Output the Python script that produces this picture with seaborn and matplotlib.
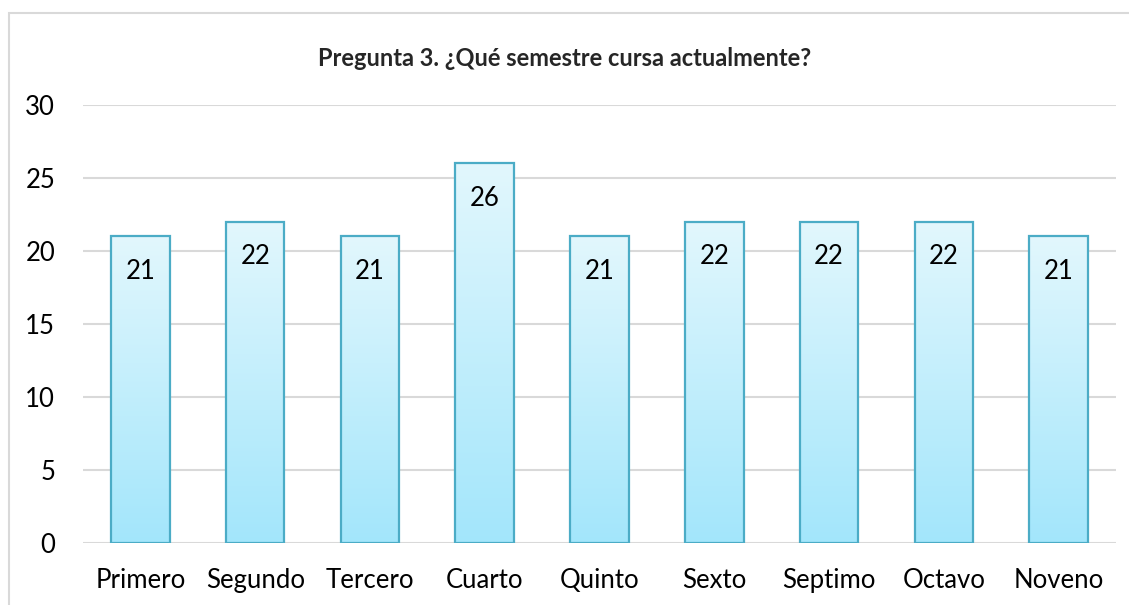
import numpy as np
import pandas as pd
import matplotlib
matplotlib.use("Agg")
import matplotlib.pyplot as plt
import seaborn as sns
from matplotlib.patches import Rectangle

# datos de la encuesta
semestres = ["Primero", "Segundo", "Tercero", "Cuarto", "Quinto",
             "Sexto", "Septimo", "Octavo", "Noveno"]
estudiantes = [21, 22, 21, 26, 21, 22, 22, 22, 21]
titulo = "Pregunta 3. ¿Qué semestre cursa actualmente?"

df = pd.DataFrame({"semestre": semestres, "n": estudiantes})

sns.set_style("white")
plt.rcParams["font.family"] = ["Lato", "DejaVu Sans"]

fig = plt.figure(figsize=(11.29, 6.05), dpi=100)
W, H = 1129, 605
ax = fig.add_axes([83 / W, (H - 543) / H, (1116 - 83) / W, (543 - 105) / H])

# marco gris del grafico
fig.patches.append(Rectangle((9 / W, -0.1), 1.2, (H - 13) / H + 0.1,
                             transform=fig.transFigure, fill=False,
                             edgecolor="#d9d9d9", linewidth=1.5))

sns.barplot(data=df, x="semestre", y="n", ax=ax, width=0.51,
            facecolor="none", edgecolor="#4bacc6", linewidth=1.6, zorder=3)

# degradado dentro de cada barra
grad = np.linspace(0, 1, 256).reshape(-1, 1)
cmap = matplotlib.colors.LinearSegmentedColormap.from_list(
    "azul", ["#a3e6fb", "#e2f7fd"])
for p in ax.patches:
    x0, w, h = p.get_x(), p.get_width(), p.get_height()
    ax.imshow(grad, extent=[x0, x0 + w, 0, h], origin="lower", cmap=cmap,
              aspect="auto", zorder=2)

for i, v in enumerate(estudiantes):
    ax.annotate(str(v), (i, v), xytext=(0, -16), textcoords="offset points",
                ha="center", va="top", fontsize=18.5, color="black", zorder=4)

ax.set_xlim(-0.5, len(semestres) - 0.5)
ax.set_ylim(0, 30)
ax.set_yticks(range(0, 31, 5))
ax.yaxis.grid(True, color="#d9d9d9", linewidth=1.5, zorder=0)
ax.set_axisbelow(True)
for s in ax.spines.values():
    s.set_visible(False)
ax.tick_params(axis="both", length=0, labelsize=18.5, colors="black")
ax.tick_params(axis="y", pad=20)
ax.tick_params(axis="x", pad=18)
ax.set_xlabel("")
ax.set_ylabel("")

fig.text(565 / W, 1 - 58 / H, titulo, ha="center", va="center",
         fontsize=17, fontweight="bold")

fig.savefig("out.png", dpi=100)
